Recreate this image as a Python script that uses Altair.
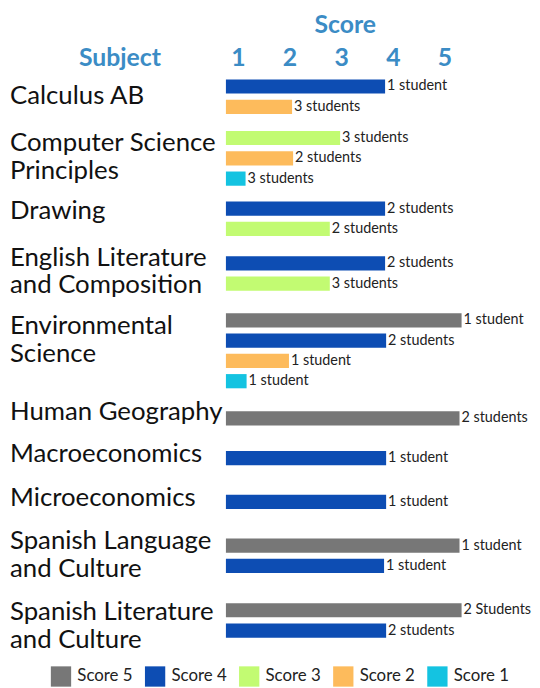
import altair as alt
import pandas as pd

# ---------------- data ----------------
subjects = [
    "Calculus AB",
    "Computer Science\nPrinciples",
    "Drawing",
    "English Literature\nand Composition",
    "Environmental\nScience",
    "Human Geography",
    "Macroeconomics",
    "Microeconomics",
    "Spanish Language\nand Culture",
    "Spanish Literature\nand Culture",
]

bar_subject = [0, 0, 1, 1, 1, 2, 2, 3, 3, 4, 4, 4, 4, 5, 6, 7, 8, 8, 9, 9]
bar_score = [4, 2, 3, 2, 1, 4, 3, 4, 3, 5, 4, 2, 1, 5, 4, 4, 5, 4, 5, 4]
# bar end as read against the score axis
bar_end = [3.85, 2.05, 2.98, 2.07, 1.15, 3.85, 2.78, 3.85, 2.78,
           5.33, 3.87, 1.99, 1.17, 5.29, 3.87, 3.87, 5.29, 3.83, 5.33, 3.87]
bar_label = ["1 student", "3 students", "3 students", "2 students", "3 students",
             "2 students", "2 students", "2 students", "3 students",
             "1 student", "2 students", "1 student", "1 student",
             "2 students", "1 student", "1 student", "1 student", "1 student",
             "2 Students", "2 students"]

score_ticks = [1, 2, 3, 4, 5]
series_names = ["Score 5", "Score 4", "Score 3", "Score 2", "Score 1"]
series_colors = ["#777777", "#0d4db3", "#c2fb72", "#fdbb5c", "#14c3e1"]

# ---------------- layout ----------------
X_MIN, X_MAX = 0.77, 5.6
W = 252
panel_heights = [52.5, 71, 51, 57.5, 97.5, 36, 44.5, 42.5, 65.5, 64]
label_nudge = [-1, -1.5, -8, -2, -11, -6, -4, -4, -1, 6]
STEP = 20.5
PAD_IN = 0.3
LINE_H = 28
BLUE = "#3b8cc5"
FONT = "Lato"

df = pd.DataFrame({
    "subject": [subjects[i] for i in bar_subject],
    "sid": bar_subject,
    "score": bar_score,
    "end": bar_end,
    "label": bar_label,
})
df["series"] = "Score " + df["score"].astype(str)

xscale = alt.Scale(domain=[X_MIN, X_MAX], nice=False, zero=False)
cscale = alt.Scale(domain=series_names, range=series_colors)

panels = []
for i, subj in enumerate(subjects):
    sub = df[df["sid"] == i]
    n = len(sub)
    H = panel_heights[i]
    po = max((H / STEP - n + PAD_IN) / 2, 0)
    yenc = alt.Y("score:O", sort="descending",
                 scale=alt.Scale(paddingInner=PAD_IN, paddingOuter=po), axis=None)
    if i == 0:
        xaxis = alt.Axis(orient="top", values=score_ticks, format="d",
                         labelFont=FONT, labelFontWeight="bold", labelFontSize=25,
                         labelColor=BLUE, labelBaseline="alphabetic", labelPadding=5,
                         tickSize=0, ticks=False, domain=False, grid=False,
                         labelFlush=False, title="Score", titleFont=FONT,
                         titleFontWeight="bold", titleFontSize=25, titleColor=BLUE,
                         titlePadding=9, titleX=120)
    else:
        xaxis = None
    base = alt.Chart(sub)
    bars = base.mark_bar().encode(
        x=alt.X("end:Q", scale=xscale, axis=xaxis),
        x2=alt.datum(X_MIN),
        y=yenc,
        color=alt.Color("series:N", scale=cscale,
                        legend=alt.Legend(title=None, orient="none", direction="horizontal",
                                          legendX=-177, legendY=601,
                                          symbolType="square", symbolSize=420,
                                          symbolStrokeWidth=0, symbolOpacity=1,
                                          labelFont=FONT, labelFontSize=17,
                                          labelColor="#222222", labelOffset=6,
                                          columnPadding=12)),
    )
    vals = base.mark_text(align="left", baseline="middle", dx=2, font=FONT,
                          fontSize=14.5, color="#222222").encode(
        x=alt.X("end:Q", scale=xscale), y=yenc, text="label:N")
    n_lines = subj.count("\n") + 1
    ly = H / 2 - (n_lines - 1) * LINE_H / 2 + label_nudge[i]
    lab = alt.Chart(pd.DataFrame({"name": [subj]})).mark_text(
        align="left", baseline="middle", lineBreak="\n", font=FONT, fontSize=26,
        lineHeight=LINE_H, color="#111111").encode(
        x=alt.value(-218), y=alt.value(ly), text="name:N")
    layers = [bars, vals, lab]
    if i == 0:
        head = alt.Chart(pd.DataFrame({"h": ["Subject"]})).mark_text(
            align="center", baseline="alphabetic", font=FONT, fontSize=25,
            fontWeight="bold", color=BLUE).encode(
            x=alt.value(-107), y=alt.value(-5), text="h:N")
        layers.append(head)
    panels.append(alt.layer(*layers).properties(width=W, height=H))

chart = alt.vconcat(*panels, spacing=0).resolve_scale(
    x="shared", color="shared").properties(
    padding={"left": 2, "top": 1, "right": 0, "bottom": 0}).configure_view(strokeWidth=0)

chart.save("out.html", embed_options={"renderer": "svg", "actions": False})
